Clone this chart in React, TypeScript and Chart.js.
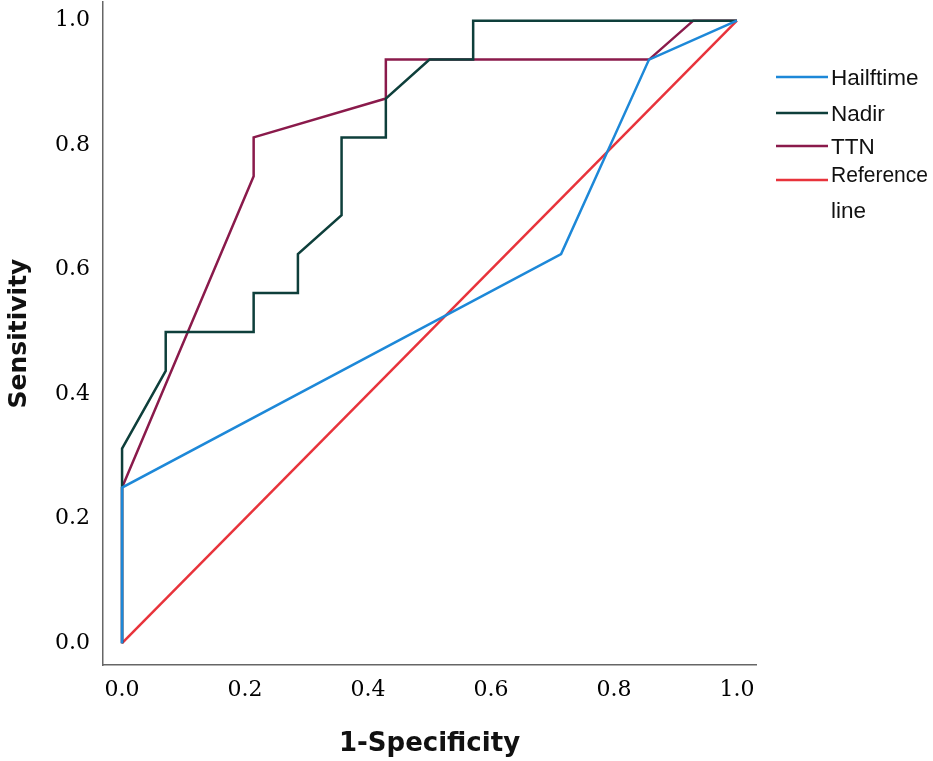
import React, { useEffect, useRef } from "react";
import { Chart, registerables } from "chart.js";

Chart.register(...registerables);

// ROC curves, 14 negatives / 16 positives
const hailftimeX = [0, 0, 0.714, 0.857, 1];
const hailftimeY = [0, 0.25, 0.625, 0.9375, 1];

const nadirX = [0, 0, 0.071, 0.071, 0.214, 0.214, 0.286, 0.286, 0.357, 0.357, 0.429, 0.429, 0.5, 0.571, 0.571, 1];
const nadirY = [0, 0.3125, 0.4375, 0.5, 0.5, 0.5625, 0.5625, 0.625, 0.6875, 0.8125, 0.8125, 0.875, 0.9375, 0.9375, 1, 1];

const ttnX = [0, 0, 0.214, 0.214, 0.429, 0.429, 0.857, 0.929, 1];
const ttnY = [0, 0.25, 0.75, 0.8125, 0.875, 0.9375, 0.9375, 1, 1];

const referenceX = [0, 1];
const referenceY = [0, 1];

const tickValues = [0, 0.2, 0.4, 0.6, 0.8, 1.0];

const seriesNames = ["Hailftime", "Nadir", "TTN", "Reference line"];
const seriesColors = ["#1d88d8", "#0e3f3b", "#8a1a4b", "#e8333b"];

const toPoints = (xs: number[], ys: number[]) => xs.map((x, i) => ({ x, y: ys[i] }));

// legend drawn on the right side of the canvas
const sideLegend = {
  id: "sideLegend",
  afterDraw(chart: any) {
    const ctx = chart.ctx;
    const rows = [77, 113, 146, 180];
    ctx.save();
    ctx.font = "22.5px 'Liberation Sans', Arial, sans-serif";
    ctx.fillStyle = "#111";
    ctx.textBaseline = "alphabetic";
    chart.data.datasets.forEach((ds: any, i: number) => {
      const y = rows[i];
      ctx.strokeStyle = ds.borderColor;
      ctx.lineWidth = 2.5;
      ctx.beginPath();
      ctx.moveTo(776, y);
      ctx.lineTo(828, y);
      ctx.stroke();
      const words = String(ds.label).split(" ");
      if (words.length > 1) {
        ctx.fillText(words[0], 831, y + 2, 97);
        ctx.fillText(words.slice(1).join(" "), 831, y + 38, 97);
      } else {
        ctx.fillText(ds.label, 831, y + 8, 97);
      }
    });
    ctx.restore();
  },
};

const App: React.FC = () => {
  const canvasRef = useRef<HTMLCanvasElement | null>(null);

  useEffect(() => {
    if (!canvasRef.current) return;
    const series = [
      toPoints(hailftimeX, hailftimeY),
      toPoints(nadirX, nadirY),
      toPoints(ttnX, ttnY),
      toPoints(referenceX, referenceY),
    ];
    const chart = new Chart(canvasRef.current, {
      type: "scatter",
      data: {
        datasets: series.map((data, i) => ({
          label: seriesNames[i],
          data,
          showLine: true,
          borderColor: seriesColors[i],
          backgroundColor: seriesColors[i],
          borderWidth: 2.5,
          pointRadius: 0,
          pointHoverRadius: 0,
          tension: 0,
        })),
      },
      options: {
        animation: false,
        responsive: false,
        layout: { autoPadding: false, padding: { top: 2, right: 177, left: 0, bottom: 0 } },
        plugins: {
          legend: { display: false },
          tooltip: { enabled: false },
        },
        scales: {
          x: {
            type: "linear",
            min: -0.031,
            max: 1.031,
            grid: { display: false, drawTicks: false },
            border: { display: true, color: "#666", width: 1.5 },
            afterBuildTicks: (scale: any) => {
              scale.ticks = tickValues.map((v) => ({ value: v }));
            },
            afterFit: (scale: any) => {
              scale.height = 96;
              scale.paddingLeft = 0;
              scale.paddingRight = 0;
            },
            ticks: {
              padding: 12,
              color: "#000",
              font: { family: "'DejaVu Serif', serif", size: 22 },
              callback: (v: any) => Number(v).toFixed(1),
            },
            title: {
              display: true,
              text: "1-Specificity",
              color: "#111",
              font: { family: "'DejaVu Sans', sans-serif", size: 26, weight: "bold" },
              padding: { top: 0, bottom: 1 },
            },
          },
          y: {
            type: "linear",
            min: -0.035,
            max: 1.03,
            grid: { display: false, drawTicks: false },
            border: { display: true, color: "#666", width: 1.5 },
            afterBuildTicks: (scale: any) => {
              scale.ticks = tickValues.map((v) => ({ value: v }));
            },
            afterFit: (scale: any) => {
              scale.width = 103;
              scale.paddingTop = 0;
              scale.paddingBottom = 0;
            },
            ticks: {
              padding: 13,
              color: "#000",
              font: { family: "'DejaVu Serif', serif", size: 22 },
              callback: (v: any) => Number(v).toFixed(1),
            },
            title: {
              display: true,
              text: "Sensitivity",
              color: "#111",
              font: { family: "'DejaVu Sans', sans-serif", size: 25, weight: "bold" },
              padding: { top: 4, bottom: 0 },
            },
          },
        },
      },
      plugins: [sideLegend],
    });

    return () => {
      chart.destroy();
    };
  }, []);

  return (
    <div style={{ position: "absolute", left: 0, top: 0, width: 933, height: 761, background: "#fff" }}>
      <canvas ref={canvasRef} width={933} height={761} style={{ display: "block" }} />
    </div>
  );
};

export default App;
